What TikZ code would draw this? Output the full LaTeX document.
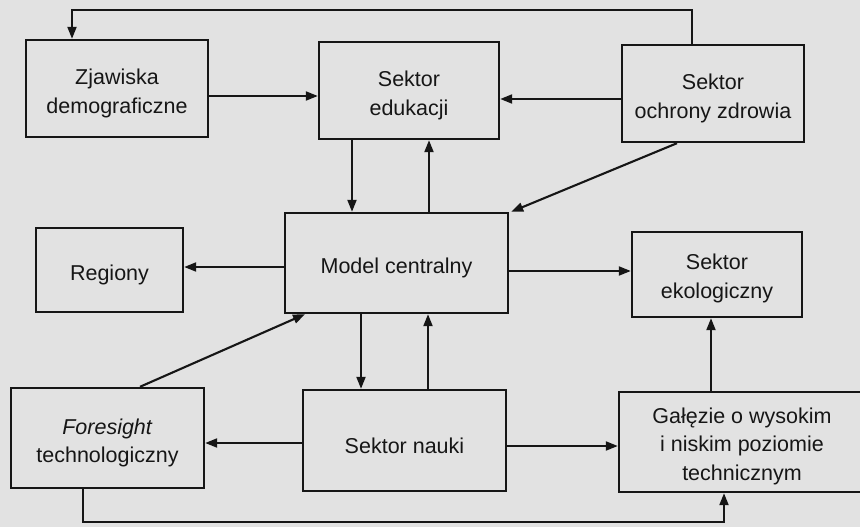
\documentclass[tikz,border=0pt]{standalone}
\usepackage{fontspec}
\setmainfont{Liberation Sans}
\usetikzlibrary{arrows.meta}
\definecolor{paper}{RGB}{226,226,226}
\definecolor{ink}{RGB}{22,22,22}
\begin{document}
\begin{tikzpicture}[x=1pt,y=-1pt,
  box/.style={draw=ink,line width=2.4pt,rectangle,inner sep=0pt},
  txt/.style={align=center,inner sep=0pt,yshift=-5pt,
    font=\fontsize{21.5}{28.5}\selectfont,text=ink},
  conn/.style={draw=ink,line width=2.1pt,-{Triangle[length=12pt,width=9pt]}}]
\fill[paper] (0,0) rectangle (860,527);
\useasboundingbox (0,0) rectangle (860,527);
\node[box,minimum width=182pt,minimum height=97pt,label={[txt]center:{Zjawiska\\demograficzne}}] (zj) at (117,88.5) {};
\node[box,minimum width=180pt,minimum height=97pt,label={[txt]center:{Sektor\\edukacji}}] (edu) at (409,90.5) {};
\node[box,minimum width=182pt,minimum height=97pt,label={[txt]center:{Sektor\\ochrony zdrowia}}] (och) at (713,93.5) {};
\node[box,minimum width=223pt,minimum height=100pt,label={[txt]center:{Model centralny}}] (model) at (396.5,263) {};
\node[box,minimum width=147pt,minimum height=84pt,label={[txt]center:{Regiony}}] (reg) at (109.5,270) {};
\node[box,minimum width=170pt,minimum height=85pt,label={[txt,yshift=1pt]center:{Sektor\\ekologiczny}}] (eko) at (717,274.5) {};
\node[box,minimum width=193pt,minimum height=100pt,label={[txt]center:{\textit{Foresight}\\technologiczny}}] (fore) at (107.5,438) {};
\node[box,minimum width=203pt,minimum height=101pt,label={[txt]center:{Sektor nauki}}] (nauka) at (404.5,440.5) {};
\node[box,minimum width=246pt,minimum height=100pt,label={[txt,yshift=1pt]center:{Gałęzie o wysokim\\i niskim poziomie\\technicznym}}] (gal) at (742,442) {};
\coordinate (t1) at (692,10);
\coordinate (t2) at (72,10);
\coordinate (b1) at (83,522);
\coordinate (b2) at (724,522);
\draw[conn] (och.north -| t1) -- (t1) -- (t2) -- (zj.north -| t2);
\draw[conn] ([yshift=-7.5pt]zj.east) -- ([yshift=-7.5pt]zj.east -| edu.west);
\draw[conn] ([yshift=-5.5pt]och.west) -- ([yshift=-5.5pt]och.west -| edu.east);
\draw[conn] ([xshift=-57pt]edu.south) -- ([xshift=-57pt]edu.south |- model.north);
\draw[conn] ([xshift=32.5pt]model.north) -- ([xshift=32.5pt]model.north |- edu.south);
\draw[conn] ([xshift=-36pt]och.south) -- ([xshift=2pt]model.north east);
\draw[conn] ([yshift=-4pt]model.west) -- ([yshift=-4pt]model.west -| reg.east);
\draw[conn] ([yshift=-8pt]model.east) -- ([yshift=-8pt]model.east -| eko.west);
\draw[conn] ([xshift=32.5pt]fore.north) -- ([xshift=-91.5pt]model.south);
\draw[conn] ([xshift=-35.5pt]model.south) -- ([xshift=-35.5pt]model.south |- nauka.north);
\draw[conn] ([xshift=23.5pt]nauka.north) -- ([xshift=23.5pt]nauka.north |- model.south);
\draw[conn] ([yshift=-2.5pt]nauka.west) -- ([yshift=-2.5pt]nauka.west -| fore.east);
\draw[conn] ([yshift=-5.5pt]nauka.east) -- ([yshift=-5.5pt]nauka.east -| gal.west);
\draw[conn] ([xshift=-31pt]gal.north) -- ([xshift=-31pt]gal.north |- eko.south);
\draw[conn] (fore.south -| b1) -- (b1) -- (b2) -- (gal.south -| b2);
\end{tikzpicture}
\end{document}
